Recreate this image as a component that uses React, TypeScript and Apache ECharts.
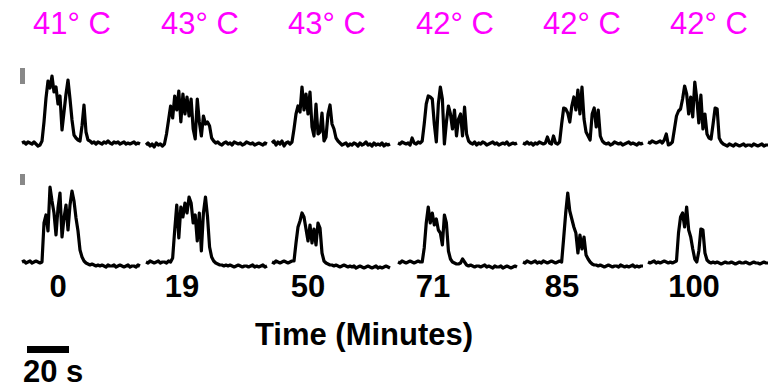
import React, { useEffect, useRef } from "react";
import * as echarts from "echarts";

// Temperature labels (top) and time-point labels (bottom)
const temperatures = ["41° C", "43° C", "43° C", "42° C", "42° C", "42° C"];
const timePoints = ["0", "19", "50", "71", "85", "100"];

// Trace amplitudes (arbitrary units, sampled every 2 px of the original)
const top0 = [1,2,0,2,1,0,2,0,-2,-1, 3,22,46,63,56,68,52,57,40,48, 14,32,50,64,45,24,9,6,4,3, 18,39,12,4,3,1,2,0,2,1, 0,2,1,3,1,0,2,1,2,0, 1,2,0,1,0,1,2,0,1,0];
const top19 = [-1,1,-2,0,-3,1,-1,0,-2,0, 10,24,38,26,48,34,53,22,50,30, 47,28,45,15,5,45,22,8,28,20, 22,18,6,3,1,2,0,-1,1,2, 0,1,-1,2,1,0,1,-1,0,2, 1,0,1,-1,0,1,0,-1,1,0];
const top50 = [1,3,-1,2,0,3,-2,1,2,0, 2,15,30,38,32,57,34,50,30,52, 17,8,40,10,12,31,3,7,30,39, 20,15,6,3,1,-1,0,1,-2,0, -1,1,0,-2,1,-1,0,2,-1,0, -2,1,-1,0,-1,1,-2,0,-1,0];
const top71 = [1,0,2,1,0,1,-1,6,1,0, 2,1,3,20,40,48,47,45,20,2, 40,57,45,0,22,38,30,15,34,8, 25,30,8,37,10,3,1,0,2,-1, 1,0,2,1,-1,0,1,2,0,1, -1,0,1,0,2,-1,0,1,0,1];
const top85 = [1,0,2,0,1,-1,1,0,2,1, 0,1,7,1,0,8,1,0,2,20, 36,35,31,22,38,47,34,54,30,57, 25,12,8,4,30,36,17,34,8,3, 1,0,1,-1,0,2,1,0,1,-1, 0,1,2,0,1,0,-1,1,0,1];
const top100 = [2,1,3,2,1,2,3,1,4,10, -1,0,2,15,28,33,35,45,58,50, 30,47,27,62,45,21,49,15,30,10, 6,5,20,36,35,6,2,0,-1,-2, 0,-1,-2,0,-1,-2,-1,0,-2,-1, -1,-2,0,-1,-2,-1,0,-2,-1,-1];

const bot0 = [1,2,0,1,2,0,1,2,1,0, 1,40,48,32,76,62,50,28,55,70, 26,45,58,33,58,72,62,45,32,13, 6,2,0,-1,-2,-1,-2,-3,-2,-3, -2,-3,-4,-2,-3,-3,-2,-4,-3,-2, -3,-4,-3,-2,-4,-3,-3,-4,-2,-3];
const bot19 = [1,0,2,1,0,1,2,0,1,1, 0,2,1,5,33,58,25,56,46,60, 50,66,60,40,48,22,50,12,50,66, 46,16,6,2,0,-1,-2,-2,-3,-2, -3,-2,-3,-4,-3,-2,-3,-4,-3,-3, -4,-3,-2,-4,-3,-4,-3,-2,-4,-3];
const bot50 = [1,0,2,1,0,1,2,1,0,1, 2,2,20,36,42,50,46,34,22,38, 20,34,18,40,35,10,2,0,-1,-2, -2,-3,-2,-3,-4,-3,-2,-3,-4,-3, -4,-3,-5,-4,-3,-4,-5,-4,-3,-4, -5,-4,-3,-5,-4,-5,-4,-3,-4,-5];
const bot71 = [1,0,2,1,0,1,2,1,0,1, 2,1,1,15,40,56,40,50,38,44, 33,30,18,48,40,12,4,1,0,-1, -1,0,4,1,-2,-3,-2,-3,-4,-3, -3,-4,-3,-2,-4,-3,-4,-5,-3,-4, -4,-3,-5,-4,-3,-4,-5,-4,-3,-4];
const bot85 = [1,0,2,1,0,1,2,0,1,0, 2,1,0,1,2,1,0,1,2,1, 25,50,70,52,44,36,30,10,28,14, 26,8,4,1,-1,-2,-2,-3,-2,-3, -4,-3,-2,-3,-4,-3,-3,-4,-2,-3, -4,-3,-4,-3,-2,-4,-3,-4,-3,-3];
const bot100 = [1,0,1,2,0,1,0,1,2,1, 0,1,0,1,2,30,46,50,36,56, 33,26,14,4,1,12,34,33,10,3, 1,0,1,0,1,0,-1,0,1,0, 0,1,0,-1,0,1,0,0,1,0, -1,0,1,0,0,-1,0,1,0,0];

const topTraces = [top0, top19, top50, top71, top85, top100];
const bottomTraces = [bot0, bot19, bot50, bot71, bot85, bot100];

// Layout (pixels)
const colLeft = [22, 146, 272, 398, 523, 648];
const colWidth = [118, 121, 118, 119, 120, 120];
const tempX = [72, 200, 327, 455, 582, 709];
const timeX = [58, 182, 308, 433, 562, 694];
const rowTop = [64, 183];
const rowHeight = 90;

const FONT = "'Liberation Sans', Arial, Helvetica, sans-serif";

export default function App() {
  const ref = useRef<HTMLDivElement>(null);

  useEffect(() => {
    if (!ref.current) return;
    const chart = echarts.init(ref.current, undefined, { renderer: "svg" });

    const grids: any[] = [];
    const xAxes: any[] = [];
    const yAxes: any[] = [];
    const series: any[] = [];
    [topTraces, bottomTraces].forEach((row, r) => {
      row.forEach((trace, c) => {
        const k = grids.length;
        grids.push({
          left: colLeft[c],
          width: colWidth[c],
          top: rowTop[r],
          height: rowHeight,
        });
        xAxes.push({ type: "value", gridIndex: k, min: 0, max: trace.length - 1, show: false });
        yAxes.push({ type: "value", gridIndex: k, min: -10, max: 80, show: false });
        series.push({
          type: "line",
          xAxisIndex: k,
          yAxisIndex: k,
          data: trace.map((v, i) => [i, v]),
          symbol: "none",
          silent: true,
          lineStyle: { color: "#000", width: 3.2, join: "round" },
        });
      });
    });

    const graphic: any[] = [];
    temperatures.forEach((t, i) => {
      graphic.push({
        type: "text",
        x: tempX[i],
        y: 23,
        style: {
          text: t,
          fill: "#ff00ff",
          font: `31px ${FONT}`,
          textAlign: "center",
          textVerticalAlign: "middle",
        },
      });
    });
    timePoints.forEach((t, i) => {
      graphic.push({
        type: "text",
        x: timeX[i],
        y: 286,
        style: {
          text: t,
          fill: "#000",
          font: `bold 31px ${FONT}`,
          textAlign: "center",
          textVerticalAlign: "middle",
        },
      });
    });
    graphic.push({
      type: "text",
      x: 364,
      y: 334,
      style: {
        text: "Time (Minutes)",
        fill: "#000",
        font: `bold 31px ${FONT}`,
        textAlign: "center",
        textVerticalAlign: "middle",
      },
    });
    graphic.push({
      type: "text",
      x: 23,
      y: 371,
      style: {
        text: "20 s",
        fill: "#000",
        font: `bold 31px ${FONT}`,
        textAlign: "left",
        textVerticalAlign: "middle",
      },
    });
    graphic.push({ type: "rect", shape: { x: 27, y: 346, width: 42, height: 7 }, style: { fill: "#000" } });
    graphic.push({ type: "rect", shape: { x: 20, y: 68, width: 5, height: 16 }, style: { fill: "#888" } });
    graphic.push({ type: "rect", shape: { x: 20, y: 174, width: 5, height: 11 }, style: { fill: "#888" } });

    chart.setOption({
      animation: false,
      backgroundColor: "#fff",
      grid: grids,
      xAxis: xAxes,
      yAxis: yAxes,
      series,
      graphic,
    });

    return () => chart.dispose();
  }, []);

  return (
    <div
      ref={ref}
      style={{ position: "absolute", left: 0, top: 0, width: 784, height: 388 }}
    />
  );
}
